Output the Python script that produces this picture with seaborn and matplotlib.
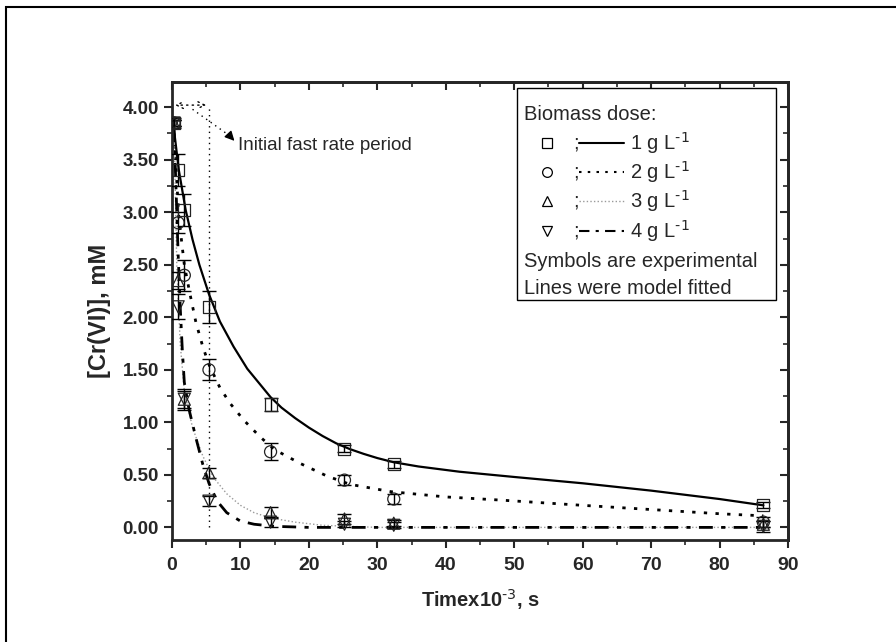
import matplotlib
matplotlib.use("Agg")
import matplotlib.pyplot as plt
import seaborn as sns
import numpy as np
from matplotlib.lines import Line2D
from matplotlib.patches import Rectangle

# ---------------- data ----------------
t_exp = [0.3, 0.9, 1.8, 5.4, 14.4, 25.2, 32.4, 86.4]
c_exp_1 = [3.85, 3.40, 3.02, 2.10, 1.17, 0.75, 0.60, 0.21]
c_exp_2 = [3.85, 2.90, 2.40, 1.50, 0.72, 0.45, 0.27, 0.05]
c_exp_3 = [3.85, 2.35, 1.22, 0.52, 0.14, 0.08, 0.04, 0.03]
c_exp_4 = [3.85, 2.10, 1.22, 0.25, 0.05, 0.03, 0.02, 0.01]
err_1 = [0.05, 0.15, 0.15, 0.15, 0.06, 0.03, 0.03, 0.03]
err_2 = [0.03, 0.10, 0.15, 0.10, 0.08, 0.05, 0.05, 0.05]
err_3 = [0.03, 0.08, 0.08, 0.05, 0.05, 0.05, 0.03, 0.03]
err_4 = [0.03, 0.12, 0.10, 0.05, 0.05, 0.03, 0.03, 0.05]

t_fit_1 = [0.3, 1, 2, 3, 4, 5.4, 7, 9, 11, 14.4, 16, 18, 20, 22, 24, 26, 28, 30, 32.4, 36, 42,
           50, 60, 70, 80, 86.4]
c_fit_1 = [3.78, 3.40, 3.02, 2.74, 2.50, 2.22, 1.96, 1.72, 1.51, 1.24, 1.14, 1.04, 0.95, 0.87,
           0.80, 0.745, 0.70, 0.66, 0.62, 0.58, 0.53, 0.48, 0.42, 0.35, 0.27, 0.21]
t_fit_2 = [0.3, 1, 1.8, 2.6, 3.5, 4.5, 5.4, 7, 8.5, 10.5, 12.9, 15, 18.7, 22.6, 26, 32, 40, 48,
           60, 70, 80, 86.4]
c_fit_2 = [3.75, 2.95, 2.50, 2.23, 1.95, 1.72, 1.55, 1.33, 1.18, 1.02, 0.86, 0.74, 0.61, 0.49,
           0.41, 0.34, 0.29, 0.26, 0.21, 0.17, 0.13, 0.11]
t_fit_3 = [0.3, 0.7, 1.2, 1.8, 3, 4.5, 6, 8, 10, 12, 14.4, 18, 22, 26, 30, 40, 60, 86.4]
c_fit_3 = [3.80, 2.50, 1.75, 1.30, 0.95, 0.68, 0.48, 0.32, 0.21, 0.14, 0.09, 0.05, 0.02, 0.01,
           0.0, 0.0, 0.0, 0.0]
t_fit_4 = [0.3, 0.6, 0.9, 1.2, 1.5, 1.8, 2.5, 3.5, 4.5, 5.4, 6.6, 8, 10, 12, 15, 20, 30, 50, 86.4]
c_fit_4 = [3.80, 3.20, 2.60, 2.10, 1.70, 1.38, 1.12, 0.85, 0.60, 0.42, 0.25, 0.14, 0.06, 0.03,
           0.01, 0.0, 0.0, 0.0, 0.0]

dose_labels = ["1 g L$^{\\text{-1}}$", "2 g L$^{\\text{-1}}$", "3 g L$^{\\text{-1}}$",
               "4 g L$^{\\text{-1}}$"]
x_ticks = [0, 10, 20, 30, 40, 50, 60, 70, 80, 90]
y_ticks = [0.0, 0.5, 1.0, 1.5, 2.0, 2.5, 3.0, 3.5, 4.0]
fast_period_end = 5.4

# ---------------- style ----------------
sns.set_style("ticks")
plt.rcParams["font.family"] = ["Liberation Sans", "DejaVu Sans"]
plt.rcParams["mathtext.default"] = "regular"
plt.rcParams["axes.unicode_minus"] = False

fig = plt.figure(figsize=(8.96, 6.42), dpi=100)
ax = fig.add_axes([172 / 896, 1 - 540 / 642, 616 / 896, 458 / 642])

markers = ["s", "o", "^", "v"]
exp_sets = [c_exp_1, c_exp_2, c_exp_3, c_exp_4]
err_sets = [err_1, err_2, err_3, err_4]
fit_t = [t_fit_1, t_fit_2, t_fit_3, t_fit_4]
fit_c = [c_fit_1, c_fit_2, c_fit_3, c_fit_4]
line_styles = [dict(color="black", lw=1.6, linestyle="-"),
               dict(color="black", lw=2.0, linestyle=(0, (1.2, 3.0))),
               dict(color="#9a9a9a", lw=1.0, linestyle=(0, (1, 1.6))),
               dict(color="black", lw=2.0, linestyle=(0, (5, 3, 1.5, 3)))]

for tt, cc, st in zip(fit_t, fit_c, line_styles):
    sns.lineplot(x=tt, y=cc, ax=ax, sort=False, **st)

for cc, ee, mk in zip(exp_sets, err_sets, markers):
    ax.errorbar(t_exp, cc, yerr=ee, fmt="none", ecolor="black", elinewidth=1.0,
                capsize=5, capthick=1.0, zorder=3)
    sns.scatterplot(x=t_exp, y=cc, ax=ax, marker=mk, s=75, facecolor="none",
                    edgecolor="#222222", linewidth=0.9, zorder=4)

# fast-rate period annotation
ax.plot([fast_period_end, fast_period_end], [0, 4.02], color="black", lw=1.0,
        linestyle=(0, (1, 3)))
ax.annotate("", xy=(0.05, 4.02), xytext=(fast_period_end, 4.02),
            arrowprops=dict(arrowstyle="<->", color="black", lw=1.0, linestyle=(0, (1, 3)),
                            mutation_scale=12))
ax.plot([3.0, 8.6], [3.98, 3.72], color="black", lw=1.0, linestyle=(0, (1, 3)))
ax.annotate("", xy=(9.4, 3.66), xytext=(8.4, 3.73),
            arrowprops=dict(arrowstyle="-|>", color="black", lw=1.0, mutation_scale=14))
ax.text(9.7, 3.64, "Initial fast rate period", fontsize=13.5, va="center", ha="left")

# axes
ax.set_xlim(0, 90)
ax.set_ylim(-0.12, 4.24)
ax.set_xticks(x_ticks)
ax.set_yticks(y_ticks)
ax.set_xticklabels([str(v) for v in x_ticks], fontweight="bold", fontsize=14)
ax.set_yticklabels([f"{v:.2f}" for v in y_ticks], fontweight="bold", fontsize=13.5)
ax.set_xticks(np.arange(5, 90, 10), minor=True)
ax.set_yticks(np.arange(0.25, 4.2, 0.5), minor=True)
ax.tick_params(which="major", direction="out", length=6, width=1.5)
ax.tick_params(which="minor", direction="out", length=3.5, width=1.2)
ax.tick_params(axis="x", pad=6)
for sp in ax.spines.values():
    sp.set_linewidth(2.0)
    sp.set_visible(True)

top = ax.secondary_xaxis("top")
top.set_xticks(x_ticks)
top.set_xticks(np.arange(5, 90, 10), minor=True)
top.tick_params(which="major", direction="in", length=6, width=1.5, labeltop=False)
top.tick_params(which="minor", direction="in", length=3.5, width=1.2)
top.spines["top"].set_linewidth(2.0)
right = ax.secondary_yaxis("right")
right.set_yticks(y_ticks)
right.set_yticks(np.arange(0.25, 4.2, 0.5), minor=True)
right.tick_params(which="major", direction="in", length=6, width=1.5, labelright=False)
right.tick_params(which="minor", direction="in", length=3.5, width=1.2)
right.spines["right"].set_linewidth(2.0)

ax.set_xlabel("Timex10$^{\\text{-3}}$, s", fontsize=14.5, fontweight="bold", labelpad=10)
ax.set_ylabel("[Cr(VI)], mM", fontsize=17, fontweight="bold", labelpad=8)

# custom legend box
def ay(py):
    return 1 - (py - 82) / 458

def axx(px):
    return (px - 172) / 616

ax.add_patch(Rectangle((axx(517), ay(300)), axx(776) - axx(517), ay(88) - ay(300),
                       transform=ax.transAxes, facecolor="white", edgecolor="black",
                       lw=1.0, zorder=6))
rows = [114, 143, 172, 201, 231, 261, 289]
fs_leg = 14.5
ax.text(axx(524), ay(rows[0]), "Biomass dose:", transform=ax.transAxes, fontsize=fs_leg,
        va="center", ha="left", zorder=7)
for i in range(4):
    y = ay(rows[i + 1])
    ax.add_line(Line2D([axx(547)], [y], marker=markers[i], markersize=7, mfc="none",
                       mec="black", mew=0.9, transform=ax.transAxes, zorder=7))
    ax.text(axx(573), y, ";", transform=ax.transAxes, fontsize=fs_leg, va="center",
            ha="left", zorder=7)
    st = line_styles[i]
    ax.add_line(Line2D([axx(579), axx(624)], [y, y], transform=ax.transAxes, zorder=7,
                       color=st["color"], lw=min(st["lw"], 1.5), linestyle=st["linestyle"]))
    ax.text(axx(630), y, dose_labels[i], transform=ax.transAxes, fontsize=fs_leg,
            va="center", ha="left", zorder=7)
ax.text(axx(524), ay(rows[5]), "Symbols are experimental", transform=ax.transAxes,
        fontsize=fs_leg, va="center", ha="left", zorder=7)
ax.text(axx(524), ay(rows[6]), "Lines were model fitted", transform=ax.transAxes,
        fontsize=fs_leg, va="center", ha="left", zorder=7)

# outer frame
fig.add_artist(Rectangle((6 / 896, -0.05), 1.2, 1 - 7 / 642 + 0.05, transform=fig.transFigure,
                         fill=False, edgecolor="black", lw=1.5))

fig.savefig("out.png", dpi=100)
